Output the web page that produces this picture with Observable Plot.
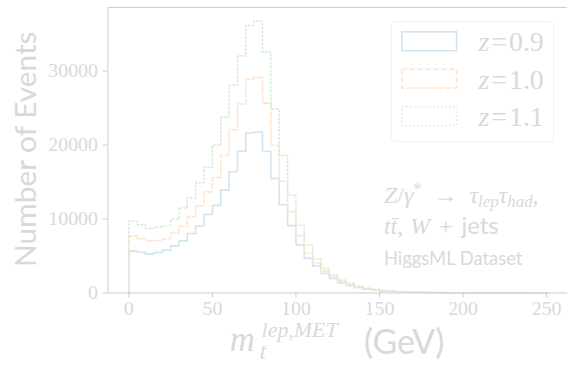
<!DOCTYPE html>
<html><head><meta charset="utf-8">
<script src="https://cdn.jsdelivr.net/npm/d3@7"></script>
<script src="https://cdn.jsdelivr.net/npm/@observablehq/plot@0.6"></script>
<style>
html,body{margin:0;padding:0;background:#fff;overflow:hidden;width:567px;height:365px;}
#chart{position:relative;width:567px;height:365px;overflow:hidden;}
</style>
</head><body><div id="chart"></div>
<script>
// bin edges (GeV)
const binEdges = [0,5,10,15,20,25,30,35,40,45,50,55,60,65,70,75,80,85,90,95,100,105,110,115,120,125,130,135,140,145,150,155,160,165,170,175,180,185,190,195,200,205,210,215,220,225,230,235,240,245,250];
const seriesNames = ["z=0.9", "z=1.0", "z=1.1"];
const z09 = [5650,5500,5250,5470,5790,6370,7040,8030,9060,10620,11840,13900,16380,19150,21630,21760,19150,15480,11920,9100,6500,4690,3640,2620,1960,1350,990,700,500,360,260,190,140,105,80,60,45,35,27,21,16,12,10,8,6,5,4,3,2,2];
const z10 = [7680,7340,7070,7080,7300,8100,9000,10320,11750,13660,15570,18660,22070,25530,28940,29150,25670,19960,15110,10990,7760,5360,4000,2950,2200,1570,1120,800,570,410,300,220,160,120,90,68,52,40,31,24,18,14,11,9,7,5,4,3,3,2];
const z11 = [9690,9240,8720,8900,9060,9960,11480,12830,14900,16980,19960,23780,28080,32050,36200,36740,32530,24860,18570,13220,9150,6460,4580,3320,2420,1750,1300,940,670,480,350,260,190,140,105,80,60,46,36,28,21,16,13,10,8,6,5,4,3,2];
const xTicks = [0,50,100,150,200,250];
const yTicks = [0,10000,20000,30000];
const lineColors = ["#d2e4f0", "#ffe5cf", "#d6ecd6"];
const dashes = [null, "5.5,2.4", "1.5,2.5"];

const allValues = [z09, z10, z11];
const rows = [];
allValues.forEach((vals, k) => {
  const s = seriesNames[k];
  rows.push({s, x: binEdges[0], y: 0});
  vals.forEach((v, i) => {
    rows.push({s, x: binEdges[i], y: v});
    rows.push({s, x: binEdges[i + 1], y: v});
  });
  rows.push({s, x: binEdges[binEdges.length - 1], y: 0});
});

const textColor = "#d9d9d9";
const axisColor = "#cdcdcd";
const serif = "'Liberation Serif', serif";
const sans = "Lato, 'Liberation Sans', sans-serif";

const chart = Plot.plot({
  width: 570,
  height: 365,
  marginLeft: 108,
  marginRight: 0,
  marginTop: 7,
  marginBottom: 71,
  style: {fontFamily: serif, fontSize: "20px", color: textColor, background: "white", overflow: "visible"},
  x: {domain: [-12.5, 262.5], label: null},
  y: {domain: [0, 38600], label: null},
  color: {domain: seriesNames, range: lineColors},
  marks: [
    ...seriesNames.map((s, k) => Plot.line(rows.filter(r => r.s === s), {
      x: "x", y: "y", stroke: "s", strokeWidth: 1.6, strokeDasharray: dashes[k], curve: "linear"
    })),
    Plot.frame({stroke: axisColor, strokeWidth: 1}),
    Plot.axisX({ticks: xTicks, tickSize: 5, tickPadding: 3, tickFormat: d => String(d), stroke: axisColor, fill: textColor, fontSize: 20, label: null}),
    Plot.axisY({ticks: yTicks, tickSize: 5, tickPadding: 5, tickFormat: d => String(d), stroke: axisColor, fill: textColor, fontSize: 20, label: null})
  ]
});
document.getElementById("chart").appendChild(chart);

const svg = d3.select(chart);
function txt(parent, x, y, family, size, italic) {
  return parent.append("text").attr("x", x).attr("y", y)
    .style("font-family", family).style("font-size", size + "px")
    .style("font-style", italic ? "italic" : "normal")
    .style("text-anchor", "start").style("fill", textColor);
}
function span(t, s, opts = {}) {
  const sp = t.append("tspan").text(s);
  if (opts.italic !== undefined) sp.style("font-style", opts.italic ? "italic" : "normal");
  if (opts.size) sp.style("font-size", opts.size + "px");
  if (opts.family) sp.style("font-family", opts.family);
  if (opts.dy) sp.attr("dy", opts.dy);
  if (opts.dx) sp.attr("dx", opts.dx);
  return sp;
}

// y label
svg.append("text")
  .attr("transform", "translate(36,150) rotate(-90)")
  .style("text-anchor", "middle")
  .style("font-family", sans).style("font-size", "30px").style("fill", textColor)
  .text("Number of Events");

// x label: m_t^{lep,MET} (GeV)
txt(svg, 231, 353, serif, 35, true).text("m");
txt(svg, 261, 361, serif, 23, true).text("t");
txt(svg, 263, 339, serif, 22, true).text("lep,MET");
txt(svg, 366, 356, sans, 34, false).text("(GeV)");

// annotation
const l1 = txt(svg, 386, 204, serif, 24, false);
span(l1, "Z", {italic: true});
span(l1, "/");
span(l1, "γ", {italic: true});
span(l1, "*", {size: 17, dy: -9});
span(l1, " → ", {dy: 9, dx: 6});
span(l1, "τ", {italic: true, dx: 6});
span(l1, "lep", {italic: true, size: 17, dy: 4});
span(l1, "τ", {italic: true, dy: -4});
span(l1, "had", {italic: true, size: 17, dy: 4});
span(l1, ",", {dy: -4});
const l2 = txt(svg, 386, 235, serif, 24, false);
span(l2, "tt\u0304", {italic: true});
span(l2, ", ");
span(l2, "W", {italic: true, dx: 1});
span(l2, " + ", {dx: 3});
span(l2, "jets", {family: sans, dx: 3});
txt(svg, 386, 266, sans, 18.5, false).text("HiggsML Dataset");

// legend
const lg = svg.append("g");
lg.append("rect").attr("x", 393.5).attr("y", 21.5).attr("width", 163).attr("height", 121).attr("rx", 4)
  .attr("fill", "white").attr("stroke", "#f0f0f0");
seriesNames.forEach((s, k) => {
  const y0 = 32 + k * 37.6;
  lg.append("rect").attr("x", 404).attr("y", y0).attr("width", 55).attr("height", 19)
    .attr("fill", "none").attr("stroke", lineColors[k]).attr("stroke-width", 1.6)
    .attr("stroke-dasharray", dashes[k]);
  const t = txt(lg, 481, y0 + 19.5, serif, 28, false);
  span(t, "z", {italic: true});
  span(t, s.slice(1, 2), {dx: 2});
  span(t, s.slice(2), {dx: 2});
});
</script>
</body></html>
